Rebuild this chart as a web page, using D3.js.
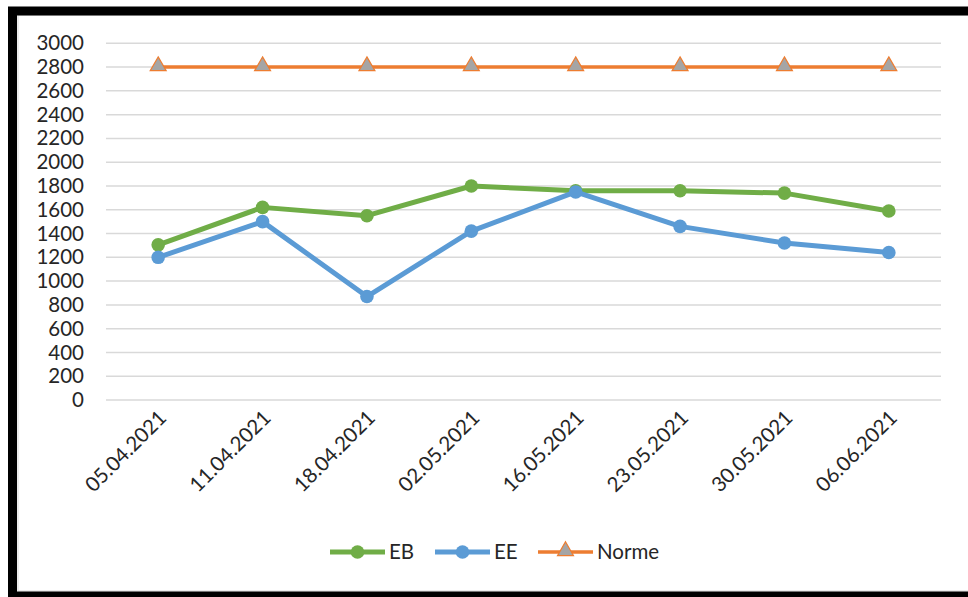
<!DOCTYPE html>
<html>
<head>
<meta charset="utf-8">
<script src="https://cdn.jsdelivr.net/npm/d3@7"></script>
<style>
  html, body { margin: 0; padding: 0; background: #fff; }
  svg { display: block; }
  text { font-family: Lato, "Liberation Sans", sans-serif; fill: #262626; }
</style>
</head>
<body>
<svg id="chart" width="968" height="597"></svg>
<script>
// Weekly measurements
const dates = ["05.04.2021", "11.04.2021", "18.04.2021", "02.05.2021",
               "16.05.2021", "23.05.2021", "30.05.2021", "06.06.2021"];
const ebValues = [1305, 1620, 1550, 1800, 1760, 1760, 1740, 1590];
const eeValues = [1200, 1500, 870, 1420, 1750, 1460, 1320, 1240];
const normeValues = [2800, 2800, 2800, 2800, 2800, 2800, 2800, 2800];
const yTicks = [0, 200, 400, 600, 800, 1000, 1200, 1400, 1600, 1800,
                2000, 2200, 2400, 2600, 2800, 3000];

const series = [
  { name: "EB", values: ebValues, color: "#70ad47", marker: "circle" },
  { name: "EE", values: eeValues, color: "#5b9bd5", marker: "circle" },
  { name: "Norme", values: normeValues, color: "#ed7d31", marker: "triangle" }
];

const svg = d3.select("#chart");
const W = 968, H = 597;

// Outer frame
svg.append("rect").attr("x", 0).attr("y", 0).attr("width", W).attr("height", H).attr("fill", "#fff");
svg.append("rect")
  .attr("x", 18).attr("y", 15).attr("width", W).attr("height", 576)
  .attr("fill", "none").attr("stroke", "#d9d9d9").attr("stroke-width", 1);
svg.append("rect")
  .attr("x", 12.5).attr("y", 11).attr("width", W + 20).attr("height", 585)
  .attr("fill", "none").attr("stroke", "#000").attr("stroke-width", 9);

const plot = { left: 106, right: 941, top: 43.3, bottom: 400 };

const x = d3.scalePoint()
  .domain(dates)
  .range([plot.left, plot.right])
  .padding(0.5);

const y = d3.scaleLinear()
  .domain([0, 3000])
  .range([plot.bottom, plot.top]);

// Horizontal gridlines
svg.append("g")
  .selectAll("line")
  .data(yTicks)
  .join("line")
  .attr("x1", plot.left).attr("x2", plot.right)
  .attr("y1", d => y(d)).attr("y2", d => y(d))
  .attr("stroke", "#d9d9d9").attr("stroke-width", 1.5);

// Y axis labels
const yAxis = d3.axisLeft(y).tickValues(yTicks).tickFormat(d3.format("d"))
  .tickSize(0).tickPadding(22);
const gy = svg.append("g").attr("transform", `translate(${plot.left},0)`).call(yAxis);
gy.select(".domain").remove();
gy.selectAll("text")
  .attr("font-size", "20.5px")
  .attr("font-family", "Lato, 'Liberation Sans', sans-serif")
  .attr("fill", "#262626");

// X axis labels, rotated
const xAxis = d3.axisBottom(x).tickSize(0).tickPadding(0);
const gx = svg.append("g").attr("transform", `translate(0,${plot.bottom})`).call(xAxis);
gx.select(".domain").remove();
gx.selectAll("text")
  .attr("font-size", "20.5px")
  .attr("font-family", "Lato, 'Liberation Sans', sans-serif")
  .attr("fill", "#262626")
  .attr("text-anchor", "end")
  .attr("dy", "0.35em")
  .attr("transform", "translate(4,14) rotate(-45)");

// Lines
const line = d3.line()
  .x((d, i) => x(dates[i]))
  .y(d => y(d));

const triangle = d3.symbol().type(d3.symbolTriangle).size(110);

series.forEach(s => {
  const g = svg.append("g");
  g.append("path")
    .attr("d", line(s.values))
    .attr("fill", "none")
    .attr("stroke", s.color)
    .attr("stroke-width", s.marker === "triangle" ? 3.5 : 5)
    .attr("stroke-linejoin", "round");
  if (s.marker === "circle") {
    g.selectAll("circle")
      .data(s.values)
      .join("circle")
      .attr("cx", (d, i) => x(dates[i]))
      .attr("cy", d => y(d))
      .attr("r", 6.8)
      .attr("fill", s.color);
  } else {
    g.selectAll("path.m")
      .data(s.values)
      .join("path")
      .attr("class", "m")
      .attr("d", triangle)
      .attr("transform", (d, i) => `translate(${x(dates[i])},${y(d) - 1})`)
      .attr("fill", "#a5a5a5")
      .attr("stroke", s.color)
      .attr("stroke-width", 1.2);
  }
});

// Legend
const legendY = 552;
const legendItems = [
  { s: series[0], x0: 330 },
  { s: series[1], x0: 435 },
  { s: series[2], x0: 538 }
];
legendItems.forEach(({ s, x0 }) => {
  const g = svg.append("g");
  g.append("line")
    .attr("x1", x0).attr("x2", x0 + 55)
    .attr("y1", legendY).attr("y2", legendY)
    .attr("stroke", s.color)
    .attr("stroke-width", s.marker === "triangle" ? 3.5 : 5);
  if (s.marker === "circle") {
    g.append("circle").attr("cx", x0 + 27.5).attr("cy", legendY).attr("r", 6.8).attr("fill", s.color);
  } else {
    g.append("path").attr("d", triangle)
      .attr("transform", `translate(${x0 + 27.5},${legendY - 1})`)
      .attr("fill", "#a5a5a5").attr("stroke", s.color).attr("stroke-width", 1.2);
  }
  g.append("text")
    .attr("x", x0 + 59).attr("y", legendY)
    .attr("dy", "0.35em")
    .attr("font-size", "20.5px")
    .text(s.name);
});
</script>
</body>
</html>
